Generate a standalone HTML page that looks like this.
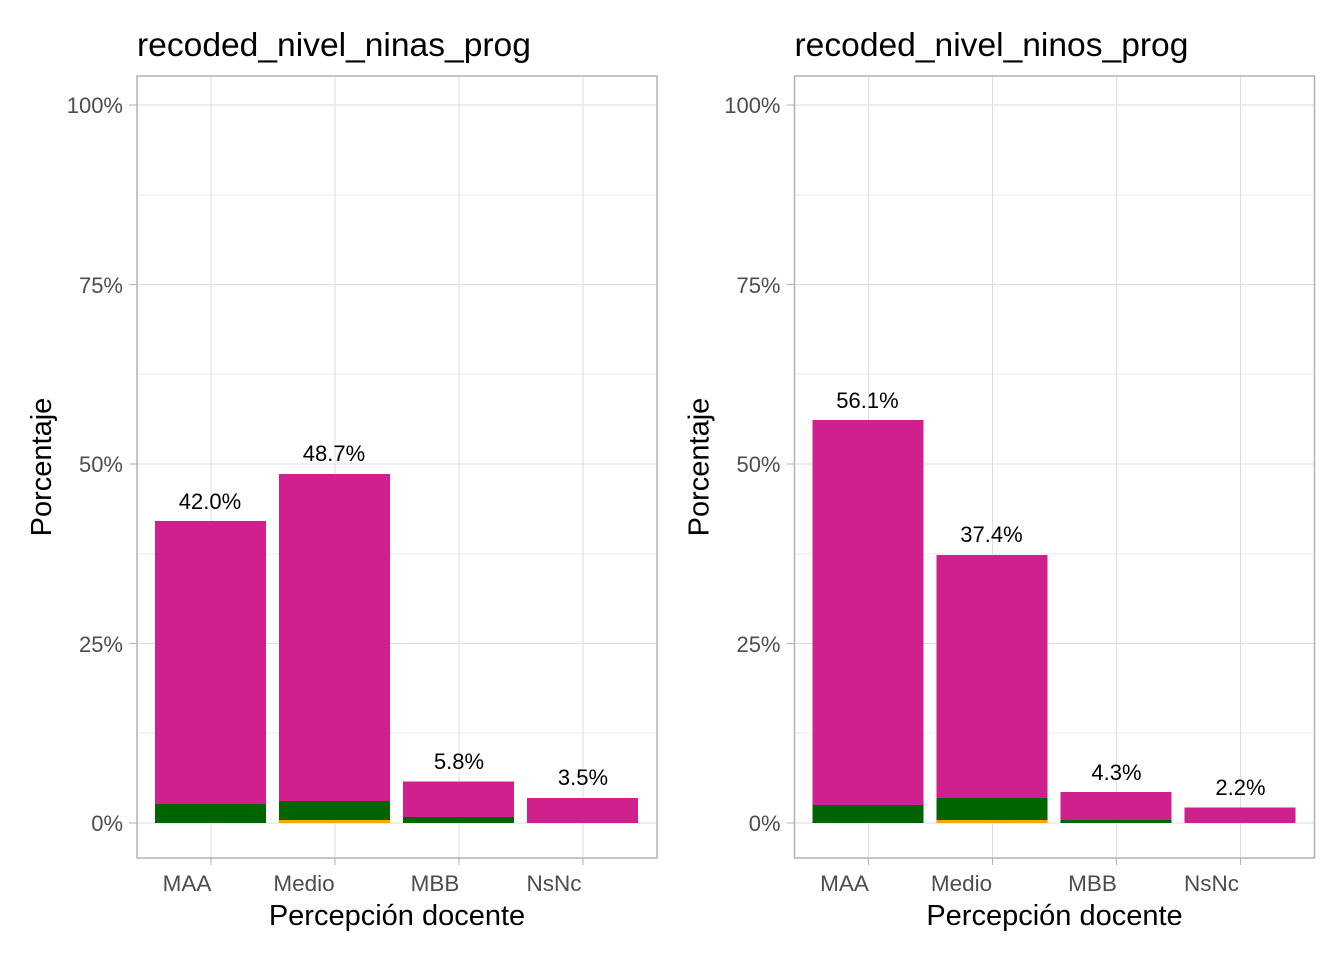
<!DOCTYPE html>
<html><head><style>body{margin:0;background:#fff}svg{display:block}</style></head><body>
<svg width="1344" height="960" xmlns="http://www.w3.org/2000/svg" font-family="Liberation Sans, sans-serif">
<rect width="1344" height="960" fill="#fff"/>
<g id="L">
<g stroke="#ebebeb" stroke-width="1">
<line x1="137" x2="657" y1="733" y2="733"/><line x1="137" x2="657" y1="554" y2="554"/><line x1="137" x2="657" y1="374" y2="374"/><line x1="137" x2="657" y1="195" y2="195"/>
</g>
<g stroke="#dedede" stroke-width="1">
<line x1="137" x2="657" y1="823" y2="823"/><line x1="137" x2="657" y1="643.5" y2="643.5"/><line x1="137" x2="657" y1="464" y2="464"/><line x1="137" x2="657" y1="284.5" y2="284.5"/><line x1="137" x2="657" y1="105" y2="105"/>
<line x1="211" x2="211" y1="76" y2="858"/><line x1="335" x2="335" y1="76" y2="858"/><line x1="459" x2="459" y1="76" y2="858"/><line x1="583" x2="583" y1="76" y2="858"/>
</g>
<rect x="155" y="521" width="111" height="302" fill="#d0208e"/><rect x="155" y="804" width="111" height="19" fill="#006400"/>
<rect x="279" y="474" width="111" height="349" fill="#d0208e"/><rect x="279" y="801" width="111" height="22" fill="#006400"/><rect x="279" y="820" width="111" height="3" fill="#ffa500"/>
<rect x="403" y="781.5" width="111" height="41.5" fill="#d0208e"/><rect x="403" y="817" width="111" height="6" fill="#006400"/>
<rect x="527" y="798" width="111" height="25" fill="#d0208e"/>
<rect x="137" y="76" width="520" height="782" fill="none" stroke="#b3b3b3" stroke-width="1.5"/>
<g font-size="22" text-anchor="middle" fill="#000">
<text x="210" y="509">42.0%</text><text x="334" y="461">48.7%</text><text x="459" y="769">5.8%</text><text x="583" y="785">3.5%</text>
</g>
<g font-size="22" text-anchor="end" fill="#4d4d4d">
<text x="123" y="831">0%</text><text x="123" y="652">25%</text><text x="123" y="472">50%</text><text x="123" y="293">75%</text><text x="123" y="113">100%</text>
</g>
<g stroke="#b3b3b3"><line x1="129" x2="137" y1="823" y2="823"/><line x1="129" x2="137" y1="643.5" y2="643.5"/><line x1="129" x2="137" y1="464" y2="464"/><line x1="129" x2="137" y1="284.5" y2="284.5"/><line x1="129" x2="137" y1="105" y2="105"/>
<line x1="211" x2="211" y1="858" y2="865"/><line x1="335" x2="335" y1="858" y2="865"/><line x1="459" x2="459" y1="858" y2="865"/><line x1="583" x2="583" y1="858" y2="865"/></g>
<g font-size="22.5" text-anchor="middle" fill="#4d4d4d">
<text x="187" y="891">MAA</text><text x="304" y="891">Medio</text><text x="435" y="891">MBB</text><text x="554" y="891">NsNc</text>
</g>
<text x="397" y="925" font-size="29" text-anchor="middle">Percepción docente</text>
<text transform="translate(51,467) rotate(-90)" font-size="29" text-anchor="middle">Porcentaje</text>
<text x="137" y="56" font-size="33.6">recoded_nivel_ninas_prog</text>
</g>
<g transform="translate(657.5,0)">
<g stroke="#ebebeb" stroke-width="1">
<line x1="137" x2="657" y1="733" y2="733"/><line x1="137" x2="657" y1="554" y2="554"/><line x1="137" x2="657" y1="374" y2="374"/><line x1="137" x2="657" y1="195" y2="195"/>
</g>
<g stroke="#dedede" stroke-width="1">
<line x1="137" x2="657" y1="823" y2="823"/><line x1="137" x2="657" y1="643.5" y2="643.5"/><line x1="137" x2="657" y1="464" y2="464"/><line x1="137" x2="657" y1="284.5" y2="284.5"/><line x1="137" x2="657" y1="105" y2="105"/>
<line x1="211" x2="211" y1="76" y2="858"/><line x1="335" x2="335" y1="76" y2="858"/><line x1="459" x2="459" y1="76" y2="858"/><line x1="583" x2="583" y1="76" y2="858"/>
</g>
<rect x="155" y="420" width="111" height="403" fill="#d0208e"/><rect x="155" y="805" width="111" height="18" fill="#006400"/>
<rect x="279" y="555" width="111" height="268" fill="#d0208e"/><rect x="279" y="798" width="111" height="25" fill="#006400"/><rect x="279" y="820" width="111" height="3" fill="#ffa500"/>
<rect x="403" y="792" width="111" height="31" fill="#d0208e"/><rect x="403" y="820" width="111" height="3" fill="#006400"/>
<rect x="527" y="807.5" width="111" height="15.5" fill="#d0208e"/>
<rect x="137" y="76" width="520" height="782" fill="none" stroke="#b3b3b3" stroke-width="1.5"/>
<g font-size="22" text-anchor="middle" fill="#000">
<text x="210" y="408">56.1%</text><text x="334" y="542">37.4%</text><text x="459" y="780">4.3%</text><text x="583" y="795">2.2%</text>
</g>
<g font-size="22" text-anchor="end" fill="#4d4d4d">
<text x="123" y="831">0%</text><text x="123" y="652">25%</text><text x="123" y="472">50%</text><text x="123" y="293">75%</text><text x="123" y="113">100%</text>
</g>
<g stroke="#b3b3b3"><line x1="129" x2="137" y1="823" y2="823"/><line x1="129" x2="137" y1="643.5" y2="643.5"/><line x1="129" x2="137" y1="464" y2="464"/><line x1="129" x2="137" y1="284.5" y2="284.5"/><line x1="129" x2="137" y1="105" y2="105"/>
<line x1="211" x2="211" y1="858" y2="865"/><line x1="335" x2="335" y1="858" y2="865"/><line x1="459" x2="459" y1="858" y2="865"/><line x1="583" x2="583" y1="858" y2="865"/></g>
<g font-size="22.5" text-anchor="middle" fill="#4d4d4d">
<text x="187" y="891">MAA</text><text x="304" y="891">Medio</text><text x="435" y="891">MBB</text><text x="554" y="891">NsNc</text>
</g>
<text x="397" y="925" font-size="29" text-anchor="middle">Percepción docente</text>
<text transform="translate(51,467) rotate(-90)" font-size="29" text-anchor="middle">Porcentaje</text>
<text x="137" y="56" font-size="33.6">recoded_nivel_ninos_prog</text>
</g>
</svg>
</body></html>
